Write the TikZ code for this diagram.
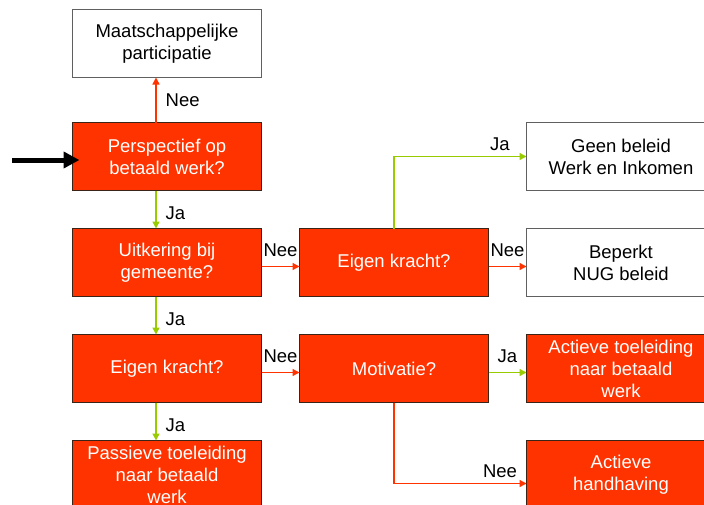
\documentclass[tikz,border=0pt]{standalone}
\usepackage{fontspec}
\setmainfont{Liberation Sans}
\usepackage{xcolor}
\usepackage{tikz}
\usetikzlibrary{arrows.meta}
\usetikzlibrary{matrix}
\definecolor{oranjerood}{HTML}{FF3300}
\definecolor{jagroen}{HTML}{99CC00}
\colorlet{neerood}{oranjerood}
\definecolor{randdonker}{HTML}{3A2418}
\definecolor{randgrijs}{HTML}{606060}
\newcommand\tekst{\fontsize{18.5}{22}\selectfont}
\tikzstyle{vak}=[line width=1pt, minimum width=189pt, minimum height=68pt, inner sep=1pt, outer sep=0pt, align=center, font=\tekst]
\tikzstyle{vraag}=[vak, draw=randdonker, fill=oranjerood, text=white]
\tikzstyle{uitkomst}=[vak, draw=randgrijs, fill=white, text=black]
\tikzstyle{lbl}=[font=\tekst, inner sep=0pt, text=black]
\tikzstyle{tip}=[-{Triangle[length=7pt,width=7pt]}]
\tikzstyle{ja} =[line width=1.4pt, draw=jagroen, tip]
\tikzstyle{nee}=[line width=1.4pt, draw=neerood, tip]
\tikzstyle{ingang}=[line width=5pt, -{Triangle[length=16pt,width=16pt]}]
\begin{document}
\begin{tikzpicture}
	\useasboundingbox (0,0) rectangle (704pt,-504pt);
	\clip (0,0) rectangle (704pt,-504pt);
	\matrix (m) [row sep=37pt, column sep=37pt, inner sep=0pt, outer sep=0pt, matrix anchor=north west] at (72pt,-9pt) {
	  \node[uitkomst] (participatie) {Maatschappelijke\\participatie}; & & \\[7pt]
	  \node[vraag] (perspectief) {Perspectief op\\betaald werk?}; & &
	  \node[uitkomst] (geenbeleid) {Geen beleid\\Werk en Inkomen}; \\
	  \node[vraag] (uitkering) {Uitkering bij\\gemeente?}; &
	  \node[vraag] (krachtA) {Eigen kracht?}; &
	  \node[uitkomst] (beperkt) {Beperkt\\NUG beleid}; \\
	  \node[vraag] (krachtB) {Eigen kracht?}; &
	  \node[vraag] (motivatie) {Motivatie?}; &
	  \node[vraag] (toeleiding) {Actieve toeleiding\\naar betaald\\werk}; \\
	  \node[vraag] (passief) {Passieve toeleiding\\naar betaald\\werk}; & &
	  \node[vraag] (handhaving) {Actieve\\handhaving}; \\
	};
	\coordinate (begin) at (12pt,-160pt);
	\draw[ingang, shorten >=-7pt] (begin) -- (begin -| perspectief.west);
	\draw[nee] ([xshift=-11pt]perspectief.north) --node[lbl, right=9pt]{Nee} ([xshift=-11pt]participatie.south);
	\draw[ja] ([xshift=-11pt]perspectief.south) --node[lbl, right=9pt, pos=.6]{Ja} ([xshift=-11pt]uitkering.north);
	\draw[ja] ([xshift=-11pt]uitkering.south) --node[lbl, right=9pt, pos=.6]{Ja} ([xshift=-11pt]krachtB.north);
	\draw[ja] ([xshift=-11pt]krachtB.south) --node[lbl, right=9pt, pos=.6]{Ja} ([xshift=-11pt]passief.north);
	\draw[nee] ([yshift=-4pt]uitkering.east) --node[lbl, above=9pt]{Nee} ([yshift=-4pt]krachtA.west);
	\draw[nee] ([yshift=-4pt]krachtA.east) --node[lbl, above=9pt]{Nee} ([yshift=-4pt]beperkt.west);
	\draw[ja] (krachtA.north) |-node[lbl, above=5pt, pos=.9]{Ja} (geenbeleid.west);
	\draw[nee] ([yshift=-4pt]krachtB.east) --node[lbl, above=9pt]{Nee} ([yshift=-4pt]motivatie.west);
	\draw[ja] ([yshift=-4pt]motivatie.east) --node[lbl, above=9pt]{Ja} ([yshift=-4pt]toeleiding.west);
	\draw[nee] (motivatie.south) |-node[lbl, above=5pt, pos=.9]{Nee} ([yshift=-9pt]handhaving.west);
\end{tikzpicture}
\end{document}
